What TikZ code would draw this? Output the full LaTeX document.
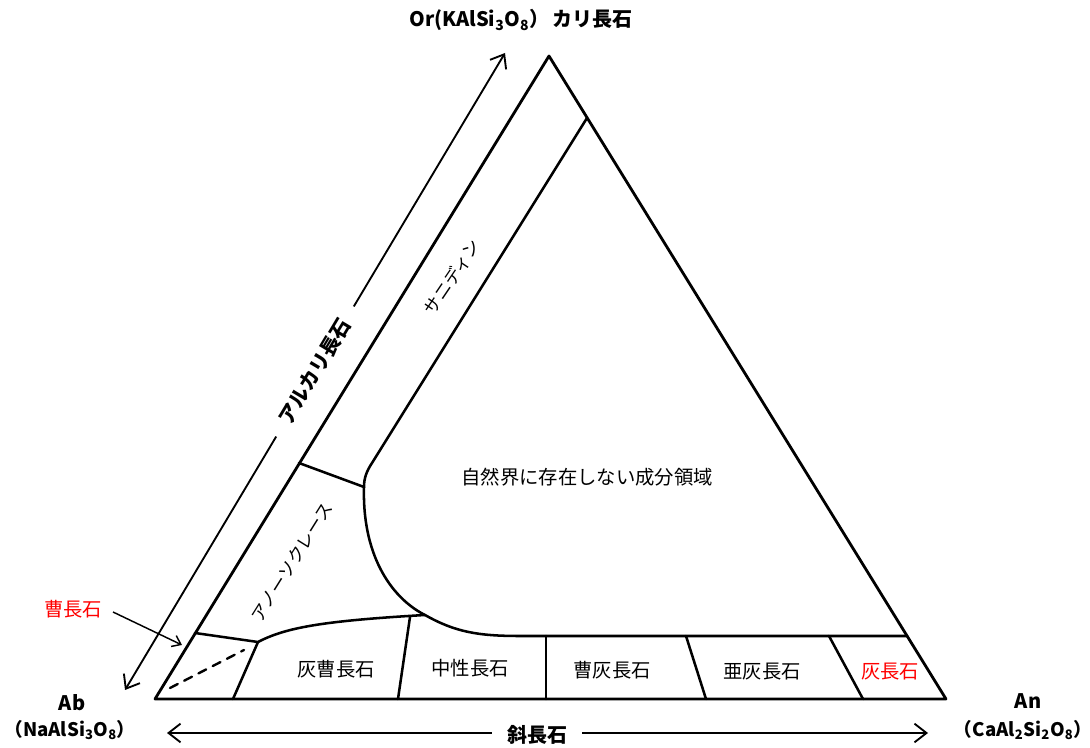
\documentclass[tikz,border=0pt]{standalone}
\usepackage{fontspec}
\setmainfont{Noto Sans CJK JP}
\usetikzlibrary{arrows.meta}
\definecolor{lblred}{RGB}{255,0,0}
\newcommand{\sbs}[1]{\textsubscript{#1}}
\begin{document}
\begin{tikzpicture}[x=0.75pt,y=-0.75pt,
  edge/.style={line width=2.1pt, line join=round, line cap=round},
  bound/.style={line width=1.9pt, line cap=round, line join=round},
  axisline/.style={line width=1.4pt, {Straight Barb[length=9pt,width=14pt,line width=1.4pt]}-{Straight Barb[length=9pt,width=14pt,line width=1.4pt]}},
  pointer/.style={line width=1.1pt, -{Straight Barb[length=6pt,width=9pt,line width=1.1pt]}},
  lbl/.style={font=\fontsize{14.5}{16}\selectfont, inner sep=0pt},
  small/.style={font=\fontsize{13}{14}\selectfont, inner sep=0pt},
  bold/.style={font=\fontsize{15}{16}\selectfont\bfseries, inner sep=0pt},
  formula/.style={font=\fontsize{14}{15}\selectfont\bfseries, inner sep=0pt},
  redlbl/.style={lbl, text=lblred}]
\useasboundingbox (0,0) rectangle (1090,748);

% vertices
\coordinate (Ab) at (155,699);
\coordinate (An) at (946,699);
\coordinate (Or) at (549,56);

% main triangle
\draw[edge] (Ab) -- (Or) -- (An) -- cycle;

% sanidine inner boundary and the large curve
\coordinate (sR) at (587,118);
\coordinate (sB) at (372,463);
\coordinate (jA) at (364,487);
\coordinate (jB) at (425,615);
\coordinate (cE) at (520,636);
\coordinate (bR) at (907,636);
\draw[bound] (sR) -- (sB) .. controls (366,472) and (364,479) .. (jA)
  .. controls (362,560) and (395,600) .. (jB)
  .. controls (455,632) and (478,636) .. (cE) -- (bR);

% anorthoclase boundaries
\coordinate (aL) at (299,463);
\draw[bound] (aL) -- (jA);
\coordinate (pL) at (195,633);
\coordinate (pJ) at (258,642);
\draw[bound] (pL) -- (pJ) .. controls (285,628) and (320,621) .. (jB);

% plagioclase dividers
\coordinate (d1t) at (258,642); \coordinate (d1b) at (233,699);
\coordinate (d2t) at (410,617); \coordinate (d2b) at (398,699);
\coordinate (d3t) at (546,636); \coordinate (d3b) at (546,699);
\coordinate (d4t) at (686,636); \coordinate (d4b) at (706,699);
\coordinate (d5t) at (829,636); \coordinate (d5b) at (863,699);
\draw[bound] (d1t) -- (d1b);
\draw[bound] (d2t) -- (d2b);
\draw[bound] (d3t) -- (d3b);
\draw[bound] (d4t) -- (d4b);
\draw[bound] (d5t) -- (d5b);

% dashed line in albite corner
\coordinate (dsA) at (170,688);
\coordinate (dsB) at (244,650);
\draw[line width=1.8pt, dash pattern=on 6.5pt off 5.5pt, line cap=round] (dsA) -- (dsB);

% alkali feldspar axis
\coordinate (kS) at (125,690);
\coordinate (kE) at (505,53);
\draw[axisline] (kS) -- node[sloped, fill=white, bold, inner xsep=12pt, inner ysep=2pt] (alk) {アルカリ長石} (kE);

% plagioclase axis
\coordinate (pS) at (167,733);
\coordinate (pE) at (928,733);
\draw[axisline] (pS) -- (pE);
\node[bold, fill=white, inner xsep=11pt, inner ysep=3pt] (plag) at (537,735) {斜長石};

% end member labels
\node[bold] (orl) at (521,20) {Or(KAlSi\sbs{3}O\sbs{8}）\,カリ長石};
\node[bold] (abl) at (72,703) {Ab};
\node[formula] (abf) at (70,730) {（NaAlSi\sbs{3}O\sbs{8}）};
\node[bold] (anl) at (1028,701) {An};
\node[formula] (anf) at (1023,730) {（CaAl\sbs{2}Si\sbs{2}O\sbs{8}）};

% albite pointer
\node[redlbl] (alb) at (73,609) {曹長石};
\coordinate (albT) at (182,645);
\draw[pointer] (113,612) -- (albT);

% region labels
\node[lbl] (nat) at (587,477) {自然界に存在しない成分領域};
\node[small, rotate=56] (san) at (452,277) {サニディン};
\node[small, rotate=58] (ano) at (292,562) {アノーソクレース};
\node[lbl] (l1) at (336,669) {灰曹長石};
\node[lbl] (l2) at (470,668) {中性長石};
\node[lbl] (l3) at (612,670) {曹灰長石};
\node[lbl] (l4) at (762,672) {亜灰長石};
\node[redlbl] (l5) at (890,672) {灰長石};
\end{tikzpicture}
\end{document}
